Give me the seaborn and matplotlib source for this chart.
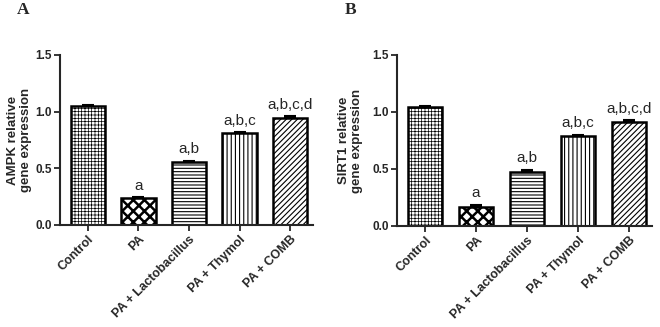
import numpy as np
import pandas as pd
import matplotlib
matplotlib.use("Agg")
import matplotlib.pyplot as plt
import seaborn as sns

groups = ["Control", "PA", "PA + Lactobacillus", "PA + Thymol", "PA + COMB"]
ampk_mean = [1.05, 0.235, 0.555, 0.81, 0.945]
ampk_err = [0.012, 0.01, 0.012, 0.008, 0.012]
sirt1_mean = [1.045, 0.17, 0.475, 0.79, 0.915]
sirt1_err = [0.008, 0.018, 0.018, 0.01, 0.01]
letters = ["", "a", "a,b", "a,b,c", "a,b,c,d"]
hatches = ["+++++", "xxx", "-----", "||||", "//////"]
hatch_widths = [0.5, 1.8, 0.8, 0.8, 0.8]

sns.set_style("ticks")
plt.rcParams["font.family"] = ["Liberation Sans", "DejaVu Sans"]
plt.rcParams["hatch.linewidth"] = 0.8
plt.rcParams["hatch.color"] = "black"


def draw_panel(ax, means, errs, ylabel, label_x):
    df = pd.DataFrame({"group": groups, "value": means})
    sns.barplot(data=df, x="group", y="value", color="white", edgecolor="black",
                linewidth=1.8, width=0.68, errorbar=None, ax=ax)
    for patch, h, hw in zip(ax.patches, hatches, hatch_widths):
        patch.set_hatch(h)
        if hasattr(patch, "set_hatch_linewidth"):
            patch.set_hatch_linewidth(hw)
    x = np.arange(len(groups))
    ax.errorbar(x, means, yerr=[np.zeros(len(errs)), errs], fmt="none",
                ecolor="black", elinewidth=1.5, capsize=4, capthick=1.5)
    for xi, m, e, t in zip(x, means, errs, letters):
        if t:
            ax.text(xi, m + e + 0.04, t, ha="center", va="bottom", fontsize=11)
    ax.set_xlim(-0.55, 4.45)
    ax.set_ylim(0, 1.5)
    ax.set_yticks([0, 0.5, 1.0, 1.5])
    ax.set_yticklabels(["0.0", "0.5", "1.0", "1.5"], fontweight="bold", fontsize=8.5)
    ax.set_xticks(x)
    ax.set_xticklabels(groups, rotation=45, ha="right", rotation_mode="anchor",
                       fontweight="bold", fontsize=9)
    ax.set_xlabel("")
    ax.set_ylabel(ylabel, fontweight="bold", fontsize=9.5, linespacing=1.1)
    ax.yaxis.set_label_coords(label_x, 0.5)
    ax.tick_params(axis="both", width=1.3, length=4, direction="out", pad=2)
    for s in ["left", "bottom"]:
        ax.spines[s].set_linewidth(1.5)
    sns.despine(ax=ax)


fig = plt.figure(figsize=(6.6, 3.27), dpi=100)
ax1 = fig.add_axes([0.091, 0.312, 0.383, 0.52])
ax2 = fig.add_axes([0.6015, 0.309, 0.3865, 0.523])

draw_panel(ax1, ampk_mean, ampk_err, "AMPK relative\ngene expression", -0.11)
draw_panel(ax2, sirt1_mean, sirt1_err, "SIRT1 relative\ngene expression", -0.132)

fig.text(0.025, 0.968, "A", fontsize=12.5, fontweight="bold", family="Liberation Serif", va="center")
fig.text(0.522, 0.968, "B", fontsize=12.5, fontweight="bold", family="Liberation Serif", va="center")

fig.savefig("out.png", dpi=100)
